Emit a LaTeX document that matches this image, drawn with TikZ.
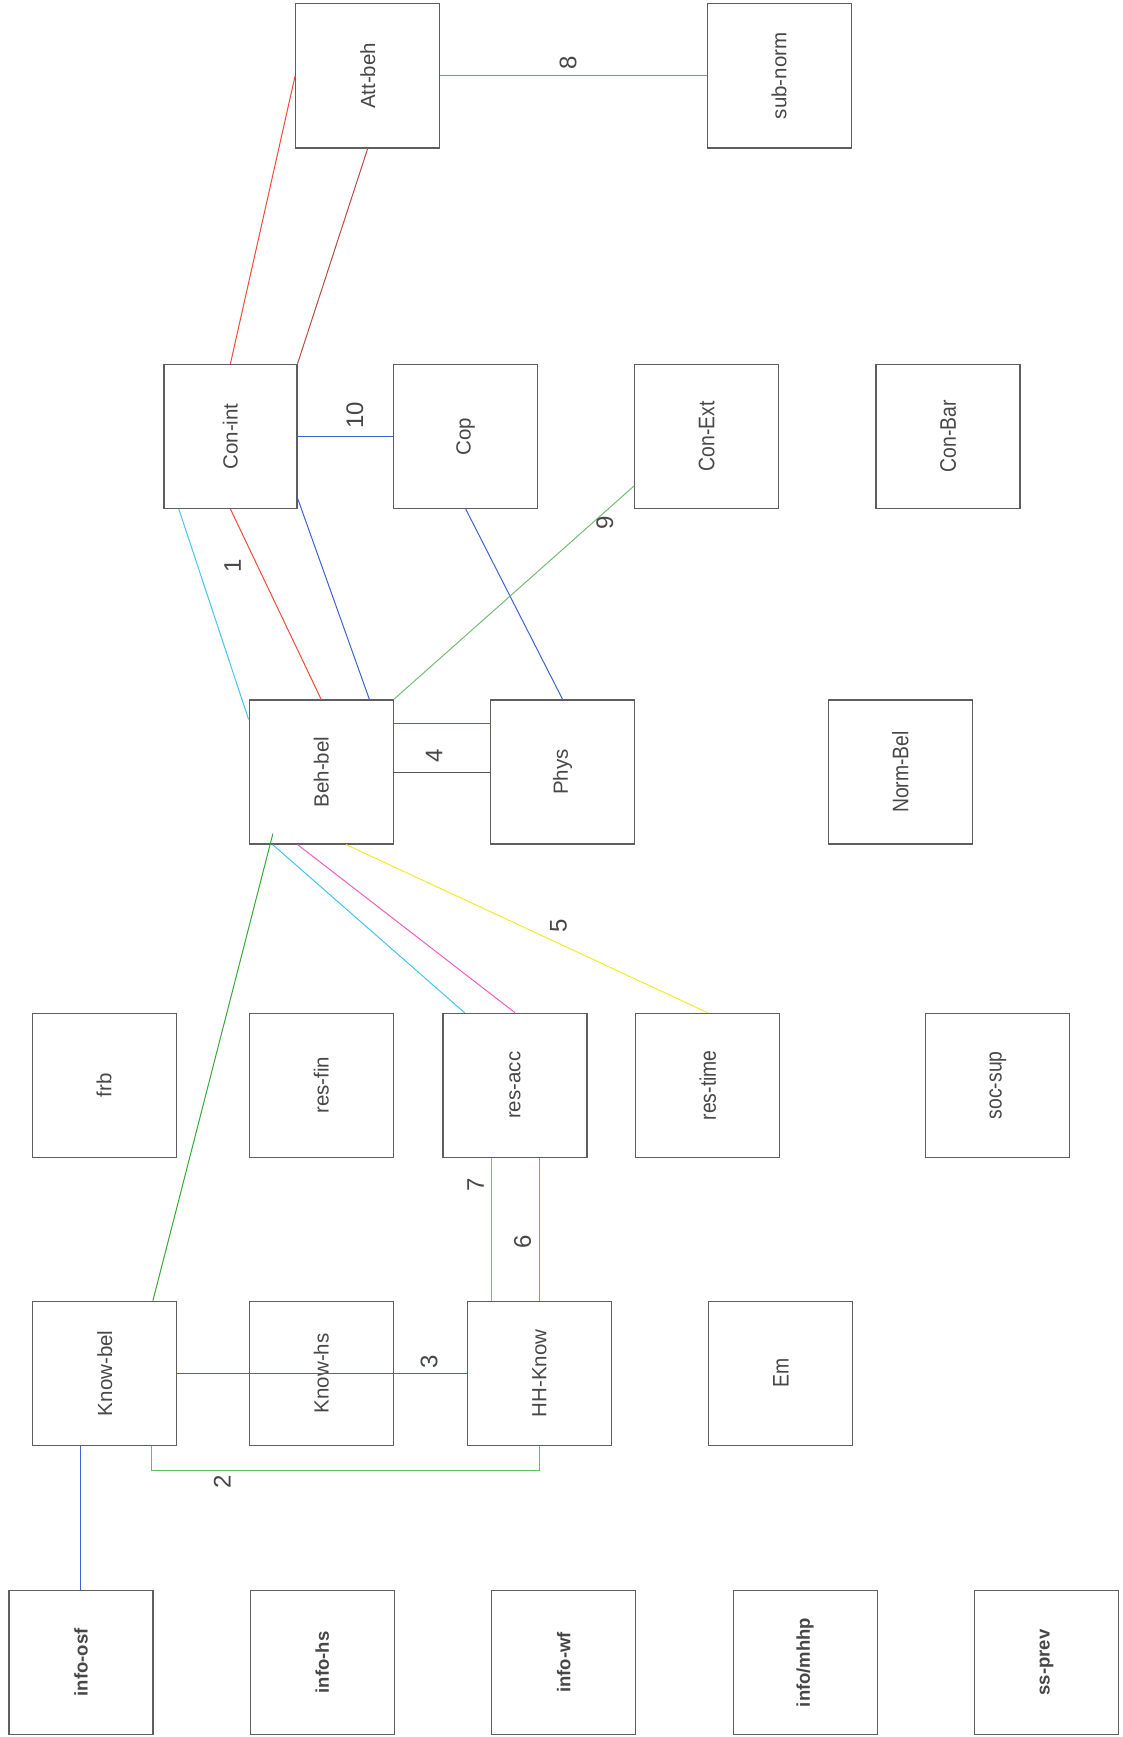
\documentclass[tikz,border=0pt]{standalone}
\usepackage{fontspec}
\setmainfont{Liberation Sans}
\newfontfamily\narrowfam[FakeStretch=0.86]{Liberation Sans}
\usepackage{graphicx}
\usetikzlibrary{calc}
\definecolor{boxc}{HTML}{5E5E5E}
\definecolor{txtc}{HTML}{474747}
\definecolor{lred}{HTML}{F24A3A}
\definecolor{lbrown}{HTML}{B84A48}
\definecolor{lblue}{HTML}{3F62D2}
\definecolor{lcyan}{HTML}{45C3F2}
\definecolor{lpink}{HTML}{EE5FBE}
\definecolor{lyellow}{HTML}{F0EC2E}
\definecolor{lgreen}{HTML}{38A838}
\definecolor{lgreenm}{HTML}{5EC05E}
\definecolor{lgreenl}{HTML}{72BE72}
\definecolor{lrose}{HTML}{A6868C}
\definecolor{ldark}{HTML}{555555}
\newcommand\boxfont{\fontsize{20.5}{24}\selectfont}
\newcommand\narrowboxfont{\narrowfam\fontsize{22.5}{26}\selectfont}
\newcommand\boldboxfont{\bfseries\fontsize{18.5}{22}\selectfont}
\newcommand\numfont{\fontsize{24}{28}\selectfont}
\begin{document}
\begin{tikzpicture}[x=1pt,y=-1pt,
  box/.style={draw=boxc, line width=1.2pt, minimum width=144pt, minimum height=144pt,
    inner sep=0pt, text=txtc, font=\boxfont},
  nbox/.style={box, font=\narrowboxfont},
  bbox/.style={box, font=\boldboxfont},
  num/.style={text=txtc, font=\numfont, inner sep=0pt},
  conn/.style={line width=1pt},
  cred/.style={conn, draw=lred},
  cbrown/.style={conn, draw=lbrown},
  cblue/.style={conn, draw=lblue},
  ccyan/.style={conn, draw=lcyan},
  cpink/.style={conn, draw=lpink},
  cyellow/.style={conn, draw=lyellow},
  cgreen/.style={conn, draw=lgreen},
  cgreenm/.style={conn, draw=lgreenm},
  cgreenl/.style={conn, draw=lgreenl},
  crose/.style={conn, draw=lrose},
  cdark/.style={conn, draw=ldark}]
\useasboundingbox[fill=white] (0,0) rectangle (1123,1737);

% row 1
\node[box] (attbeh) at (367.7,75.9) {\rotatebox{90}{Att-beh}};
\node[box] (subnorm) at (779.1,75.9) {\rotatebox{90}{sub-norm}};
% row 2
\node[box, minimum width=133pt] (conint) at (230.4,436.4) {\rotatebox{90}{Con-int}};
\node[box] (cop) at (465.7,436.4) {\rotatebox{90}{Cop}};
\node[nbox] (conext) at (706.6,436.4) {\rotatebox{90}{Con-Ext}};
\node[nbox] (conbar) at (948,436.4) {\rotatebox{90}{Con-Bar}};
% row 3
\node[box] (behbel) at (321.2,772) {\rotatebox{90}{Beh-bel}};
\node[box] (phys) at (562.6,772) {\rotatebox{90}{Phys}};
\node[nbox] (normbel) at (900.4,772) {\rotatebox{90}{Norm-Bel}};
% row 4
\node[box] (frb) at (104.1,1085.3) {\rotatebox{90}{frb}};
\node[box] (resfin) at (321.2,1085.3) {\rotatebox{90}{res-fin}};
\node[box] (resacc) at (515,1085.3) {\rotatebox{90}{res-acc}};
\node[nbox] (restime) at (707.7,1085.3) {\rotatebox{90}{res-time}};
\node[nbox] (socsup) at (997.8,1085.3) {\rotatebox{90}{soc-sup}};
% row 5
\node[box] (knowbel) at (104.7,1373.3) {\rotatebox{90}{Know-bel}};
\node[box] (knowhs) at (321.2,1373.3) {\rotatebox{90}{Know-hs}};
\node[box] (hhknow) at (539.3,1373.3) {\rotatebox{90}{HH-Know}};
\node[nbox] (em) at (780.8,1373.3) {\rotatebox{90}{Em}};
% row 6
\node[bbox] (infoosf) at (80.9,1662.4) {\rotatebox{90}{info-osf}};
\node[bbox] (infohs) at (322.3,1662.4) {\rotatebox{90}{info-hs}};
\node[bbox] (infowf) at (563.7,1662.4) {\rotatebox{90}{info-wf}};
\node[bbox] (infomhhp) at (805.1,1662.4) {\rotatebox{90}{info/mhhp}};
\node[bbox] (ssprev) at (1046.6,1662.4) {\rotatebox{90}{ss-prev}};

% connectors
\draw[crose] (attbeh.east) -- node[num, pos=0.48, yshift=13pt] {\rotatebox{90}{8}} (subnorm.west);
\draw[cred] (conint.north) -- (attbeh.west);
\draw[cbrown] (conint.north east) -- (attbeh.south);
\draw[cblue] (conint.east) -- node[num, pos=0.6, yshift=21pt] {\rotatebox{90}{10}} (cop.west);
\draw[ccyan] ([xshift=15.5pt]conint.south west) -- ([yshift=-20pt]behbel.north west);
\draw[cred] (conint.south) -- node[num, pos=0.3, xshift=-25pt] {\rotatebox{90}{1}} (behbel.north);
\draw[cblue] ([yshift=11pt]conint.south east) -- ([xshift=-24.4pt]behbel.north east);
\draw[cblue] (cop.south) -- (phys.north);
\draw[cgreenl] ([yshift=23pt]conext.south west) -- node[num, pos=0.13, xshift=2pt, yshift=-9pt] {\rotatebox{90}{9}} (behbel.north east);
\draw[cblue] ([yshift=-24.3pt]behbel.north east) -- ([yshift=-24.3pt]phys.north west);
\draw[cdark] (behbel.east) -- node[num, pos=0.42, yshift=16pt] {\rotatebox{90}{4}} (phys.west);
\draw[cgreen] ([xshift=24.3pt, yshift=11pt]behbel.south west) -- ([xshift=-24.4pt]knowbel.north east);
\draw[ccyan] ([xshift=24.1pt]behbel.south west) -- ([xshift=22.2pt]resacc.north west);
\draw[cpink] ([xshift=49pt]behbel.south west) -- (resacc.north);
\draw[cyellow] ([xshift=97.5pt]behbel.south west) -- node[num, pos=0.587, yshift=17pt] {\rotatebox{90}{5}} (restime.north);
\coordinate (c7top) at ([xshift=48.7pt]resacc.south west);
\draw[ccyan] (c7top) -- node[num, pos=0.19, xshift=-15.5pt] {\rotatebox{90}{7}} (c7top |- hhknow.north);
\draw[cpink] (hhknow.north |- resacc.south) -- node[num, pos=0.59, xshift=-16.6pt] {\rotatebox{90}{6}} (hhknow.north);
\draw[cblue] (knowbel.east) -- node[num, pos=0.87, yshift=11pt] {\rotatebox{90}{3}} (hhknow.west);
\draw[cgreenm] ([xshift=-25.5pt]knowbel.south east) -- ++(0,24.3) -| node[num, pos=0.091, yshift=-12pt] {\rotatebox{90}{2}} (hhknow.south);
\draw[cblue] (infoosf.north |- knowbel.south) -- (infoosf.north);
\end{tikzpicture}
\end{document}
